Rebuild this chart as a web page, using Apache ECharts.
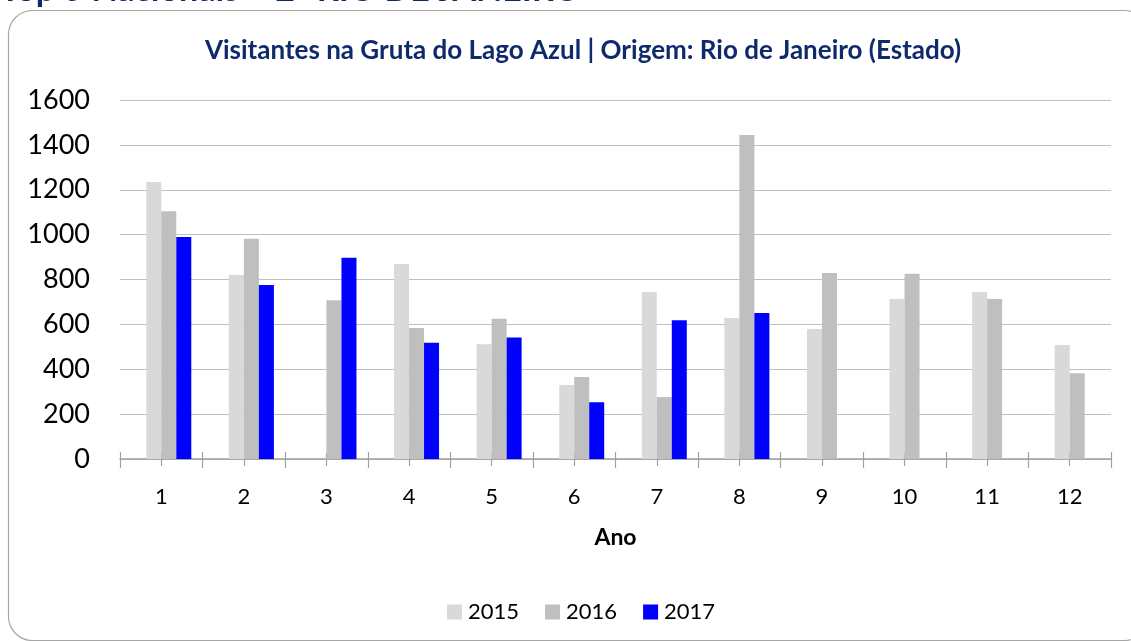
<!DOCTYPE html>
<html>
<head>
<meta charset="utf-8">
<script src="https://cdn.jsdelivr.net/npm/echarts@6/dist/echarts.min.js"></script>
<style>
html,body{margin:0;padding:0;background:#fff;}
#c{width:1131px;height:641px;}
</style>
</head>
<body>
<div id="c"></div>
<script>
var categories = ['1','2','3','4','5','6','7','8','9','10','11','12'];
var seriesNames = ['2015','2016','2017'];
var v2015 = [1235, 820, null, 869, 511, 330, 744, 628, 579, 713, 744, 508];
var v2016 = [1104, 982, 707, 584, 625, 365, 276, 1444, 829, 826, 713, 382];
var v2017 = [989, 775, 897, 518, 542, 253, 618, 651, null, null, null, null];
var vEmpty = [null, null, null, null, null, null, null, null, null, null, null, null];
var yTicks = [0, 200, 400, 600, 800, 1000, 1200, 1400, 1600];

var FONT = 'Lato, "Open Sans", sans-serif';
var NAVY = '#0f2a6b';
var chart = echarts.init(document.getElementById('c'), null, {renderer:'canvas'});

function bar(name, data, color){
  return {
    name: name, type: 'bar', data: data, barWidth: 15, barGap: '0%',
    itemStyle: {color: color}, xAxisIndex: 0
  };
}

chart.setOption({
  animation: false,
  backgroundColor: '#fff',
  textStyle: {fontFamily: FONT},
  title: {
    text: 'Visitantes na Gruta do Lago Azul | Origem: Rio de Janeiro (Estado)',
    left: 578, top: 33, textAlign: 'center',
    textStyle: {fontFamily: FONT, fontWeight: 'bold', fontSize: 26, color: NAVY}
  },
  graphic: [
    {type: 'rect', shape: {x: 8.5, y: 10.5, width: 1140, height: 630, r: 24},
     style: {fill: 'none', stroke: '#a6a6a6', lineWidth: 1.2}, z: -1},
    {type: 'text', left: 0, top: -27,
     style: {text: 'Top 5 Nacionais – 2º RIO DE JANEIRO', fill: NAVY,
             font: 'bold 34px ' + FONT}}
  ],
  legend: {
    bottom: 18, left: 447, padding: 0, itemWidth: 15, itemHeight: 15, itemGap: 26,
    icon: 'rect',
    textStyle: {fontFamily: FONT, fontSize: 22, color: '#000', padding: [0,0,0,1]},
    data: seriesNames
  },
  grid: {left: 120, right: 20, top: 100, bottom: 182},
  xAxis: [
    {type: 'category', data: categories, boundaryGap: true, position: 'bottom',
     axisLine: {show: true, lineStyle: {color: '#a0a0a0', width: 1.5}},
     axisTick: {show: false},
     axisLabel: {fontSize: 22, color: '#000', margin: 27, fontFamily: FONT},
     name: 'Ano', nameLocation: 'middle', nameGap: 67,
     nameTextStyle: {fontSize: 23, fontWeight: 'bold', color: '#000', fontFamily: FONT}},
    {type: 'category', data: categories, boundaryGap: true, position: 'bottom', offset: -7,
     axisLine: {show: false}, axisLabel: {show: false},
     axisTick: {show: true, length: 16, lineStyle: {color: '#a0a0a0', width: 1.2}}},
    {type: 'category', data: categories, boundaryGap: true, position: 'bottom', offset: -6,
     axisLine: {show: false}, axisLabel: {show: false},
     axisTick: {show: true, alignWithLabel: true, length: 13, lineStyle: {color: '#a0a0a0', width: 1.2}}}
  ],
  yAxis: {
    type: 'value', min: yTicks[0], max: yTicks[yTicks.length-1], interval: 200,
    axisLine: {show: false}, axisTick: {show: false},
    axisLabel: {fontSize: 27, color: '#000', margin: 30, fontFamily: FONT,
                formatter: function(v){ return String(v); }},
    splitLine: {lineStyle: {color: '#bfbfbf', width: 1.2}}
  },
  series: [
    bar('', vEmpty, 'rgba(0,0,0,0)'),
    bar(seriesNames[0], v2015, '#d9d9d9'),
    bar(seriesNames[1], v2016, '#bfbfbf'),
    bar(seriesNames[2], v2017, '#0000ff')
  ]
});
</script>
</body>
</html>
